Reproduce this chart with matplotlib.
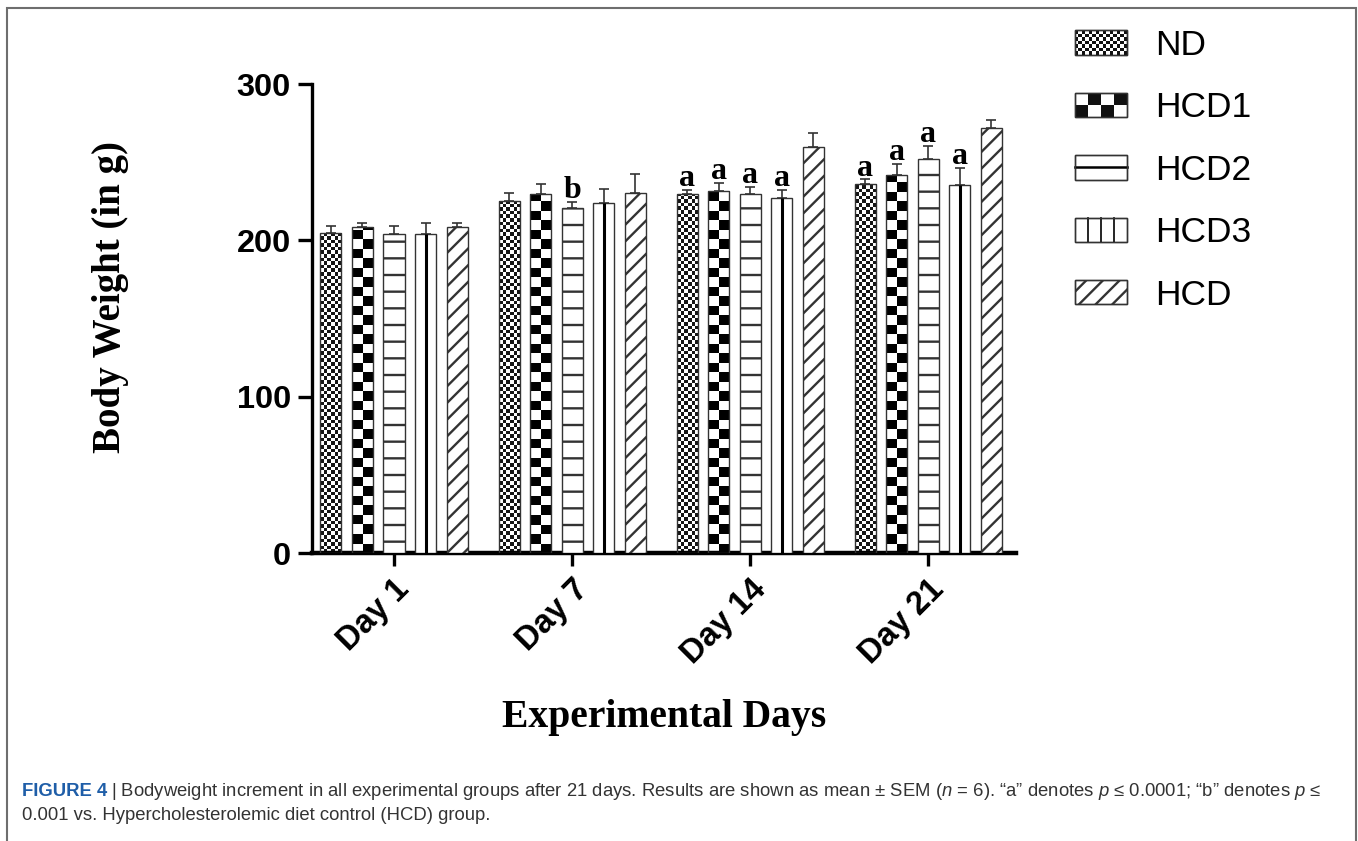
import numpy as np
import matplotlib
matplotlib.use('Agg')
import matplotlib.pyplot as plt
from matplotlib.patches import Rectangle, Patch
from matplotlib.lines import Line2D
from matplotlib.legend_handler import HandlerBase
from matplotlib import font_manager

# ---------------- data ----------------
days = ['Day 1', 'Day 7', 'Day 14', 'Day 21']
groups = ['ND', 'HCD1', 'HCD2', 'HCD3', 'HCD']

nd_mean = [205.0, 225.5, 229.5, 236.0]
nd_sem = [4.0, 5.0, 3.0, 3.0]
hcd1_mean = [208.8, 230.0, 231.8, 242.0]
hcd1_sem = [2.5, 6.0, 5.0, 7.0]
hcd2_mean = [204.0, 220.5, 229.5, 252.0]
hcd2_sem = [5.5, 4.0, 4.5, 8.5]
hcd3_mean = [204.0, 224.0, 227.0, 235.5]
hcd3_sem = [7.0, 9.0, 5.0, 11.0]
hcd_mean = [208.8, 230.5, 259.5, 272.0]
hcd_sem = [2.5, 12.0, 9.0, 5.0]

nd_sig = ['', '', 'a', 'a']
hcd1_sig = ['', '', 'a', 'a']
hcd2_sig = ['', 'b', 'a', 'a']
hcd3_sig = ['', '', 'a', 'a']
hcd_sig = ['', '', '', '']

y_ticks = [0, 100, 200, 300]

# ---------------- style ----------------
W, H, DPI = 1358, 841, 100
SANS = ['Liberation Sans', 'DejaVu Sans']
SERIF = ['Liberation Serif', 'DejaVu Serif']
names = {f.name for f in font_manager.fontManager.ttflist}
NARROW = 'Liberation Sans Narrow' in names
CAP_FAM = ['Liberation Sans Narrow', 'Liberation Sans'] if NARROW else ['Liberation Sans', 'DejaVu Sans']

plt.rcParams['font.family'] = SANS
plt.rcParams['hatch.linewidth'] = 1.7
plt.rcParams['mathtext.fontset'] = 'custom'
plt.rcParams['mathtext.it'] = (CAP_FAM[0] + ':italic')
plt.rcParams['mathtext.rm'] = CAP_FAM[0]

EDGE = '#333333'

fig = plt.figure(figsize=(W / DPI, H / DPI), dpi=DPI)
ax_l, ax_r, ax_b, ax_t = 311.7, 1016.0, 553.3, 84.0
ax = fig.add_axes([ax_l / W, 1 - ax_b / H, (ax_r - ax_l) / W, (ax_b - ax_t) / H])

XLIM = (-0.462, 3.492)
YLIM = (0, 300)
px_y = (ax_b - ax_t) / (YLIM[1] - YLIM[0])

x = np.arange(len(days))
width = 0.118
step = 0.177

series = [
    (nd_mean, nd_sem, nd_sig, 'fine'),
    (hcd1_mean, hcd1_sem, hcd1_sig, 'coarse'),
    (hcd2_mean, hcd2_sem, hcd2_sig, 'hline'),
    (hcd3_mean, hcd3_sem, hcd3_sig, 'vline'),
    (hcd_mean, hcd_sem, hcd_sig, 'diag'),
]


def checker(bars, ncols, cell_px, dark):
    cmap = matplotlib.colors.ListedColormap(['white', dark])
    for rect in bars:
        x0, w, h = rect.get_x(), rect.get_width(), rect.get_height()
        ch = cell_px / px_y
        nrows = int(np.ceil(h / ch)) + 1
        arr = np.add.outer(np.arange(nrows), np.arange(ncols)) % 2
        im = ax.imshow(arr, cmap=cmap, vmin=0, vmax=1, origin='lower',
                       extent=(x0, x0 + w, 0, nrows * ch), aspect='auto',
                       interpolation='nearest', zorder=2.5)
        im.set_clip_path(rect)


for i, (m, s, sig, kind) in enumerate(series):
    xs = x + (i - 2) * step
    hatch = None
    if kind == 'hline':
        hatch = '-'
    elif kind == 'diag':
        hatch = '//'
    fc = 'none' if kind in ('fine', 'coarse') else 'white'
    ax.errorbar(xs, m, yerr=[np.zeros(len(m)), s], fmt='none', ecolor=EDGE,
                elinewidth=1.2, capsize=3.3, capthick=1.2, zorder=2)
    bars = ax.bar(xs, m, width, facecolor=fc, edgecolor=EDGE, linewidth=1.0,
                  hatch=hatch, zorder=3)
    if kind == 'fine':
        checker(bars, 6, 3.6, '#151515')
    elif kind == 'coarse':
        checker(bars, 2, 9.5, '#000000')
    elif kind == 'vline':
        ax.vlines(xs, 0, m, colors='black', linewidth=2.2, zorder=3.5)
    for xx, mm, ss, lab in zip(xs, m, s, sig):
        if lab:
            ax.text(xx, mm + ss + 2.5, lab, ha='center', va='baseline',
                    fontfamily=SERIF, fontweight='bold', fontsize=23, zorder=5)

ax.set_xlim(*XLIM)
ax.set_ylim(*YLIM)

for side in ('top', 'right'):
    ax.spines[side].set_visible(False)
ax.spines['left'].set_linewidth(2.4)
ax.spines['bottom'].set_linewidth(3.2)
ax.spines['left'].set_capstyle('projecting')
ax.spines['bottom'].set_capstyle('projecting')

ax.set_yticks(y_ticks)
ax.set_yticklabels([str(t) for t in y_ticks], fontsize=23.4, fontweight='bold')
ax.tick_params(axis='y', length=10, width=2.4, pad=5)
ax.set_xticks(x)
ax.set_xticklabels(days, rotation=45, ha='right', va='top', rotation_mode='anchor',
                   fontsize=23.5, fontweight='bold')
ax.tick_params(axis='x', length=9, width=2.4, pad=6)

ax.set_ylabel('Body Weight (in g)', fontfamily=SERIF, fontweight='bold', fontsize=28)
ax.yaxis.set_label_coords((129 - ax_l) / (ax_r - ax_l), (ax_b - 297) / (ax_b - ax_t))

fig.text((ax_l + ax_r) / 2 / W, 1 - 718 / H, 'Experimental Days', ha='center', va='center',
         fontfamily=SERIF, fontweight='bold', fontsize=28.5)


# ---------------- legend ----------------
class PatternHandler(HandlerBase):
    def __init__(self, kind):
        super().__init__()
        self.kind = kind

    def create_artists(self, legend, orig_handle, xdescent, ydescent, width, height,
                       fontsize, trans):
        x0, y0 = -xdescent, -ydescent
        arts = []
        hatch = '//' if self.kind == 'diag' else None
        arts.append(Rectangle((x0, y0), width, height, facecolor='white', edgecolor=EDGE,
                              linewidth=1.0, hatch=hatch, transform=trans))
        if self.kind in ('fine', 'coarse'):
            nc, nr = (15, 7) if self.kind == 'fine' else (4, 2)
            cw, chh = width / nc, height / nr
            for r in range(nr):
                for c in range(nc):
                    if (r + c) % 2 == 0:
                        arts.append(Rectangle((x0 + c * cw, y0 + r * chh), cw, chh,
                                              facecolor='#111111', edgecolor='none',
                                              transform=trans))
        elif self.kind == 'hline':
            arts.append(Line2D([x0, x0 + width], [y0 + height / 2] * 2, color='black',
                               linewidth=1.8, transform=trans))
        elif self.kind == 'vline':
            for k in (1, 2, 3):
                arts.append(Line2D([x0 + k * width / 4] * 2, [y0, y0 + height],
                                   color='black', linewidth=1.2, transform=trans))
        arts.append(Rectangle((x0, y0), width, height, facecolor='none', edgecolor=EDGE,
                              linewidth=1.0, transform=trans))
        return arts


handles = [Patch() for _ in groups]
hmap = {h: PatternHandler(s[3]) for h, s in zip(handles, series)}
fs_leg = 25.5
em = fs_leg * DPI / 72
fig.legend(handles, groups, handler_map=hmap, loc='upper left',
           bbox_to_anchor=(1075 / W, 1 - 29 / H), frameon=False, borderpad=0,
           borderaxespad=0, prop={'family': SANS, 'size': fs_leg},
           handlelength=52 / em, handleheight=24 / em, handletextpad=28 / em,
           labelspacing=0.83)

# ---------------- frame & caption ----------------
fig.patches.append(Rectangle((7 / W, -0.02), (1356 - 7) / W, 1.02 - 8 / H,
                             transform=fig.transFigure, facecolor='none',
                             edgecolor='#6e6e6e', linewidth=1.5, zorder=0))

cap_fs = 14.5 if NARROW else 13.3
t1 = fig.text(22 / W, 1 - 796 / H, 'FIGURE 4', color='#1f5ea8', fontweight='bold',
              fontfamily=CAP_FAM, fontsize=cap_fs, va='baseline')
fig.canvas.draw()
r = fig.canvas.get_renderer()
bb = t1.get_window_extent(r)
line1 = ('| Bodyweight increment in all experimental groups after 21 days. Results are '
         'shown as mean \u00b1 SEM ($n$ = 6). \u201ca\u201d denotes $p$ \u2264 0.0001; '
         '\u201cb\u201d denotes $p$ \u2264')
fig.text((bb.x1 + 4) / W, 1 - 796 / H, line1, color='#333333', fontfamily=CAP_FAM,
         fontsize=cap_fs, va='baseline')
fig.text(22 / W, 1 - 820 / H, '0.001 vs. Hypercholesterolemic diet control (HCD) group.',
         color='#333333', fontfamily=CAP_FAM, fontsize=cap_fs, va='baseline')

fig.savefig('out.png', dpi=DPI)
